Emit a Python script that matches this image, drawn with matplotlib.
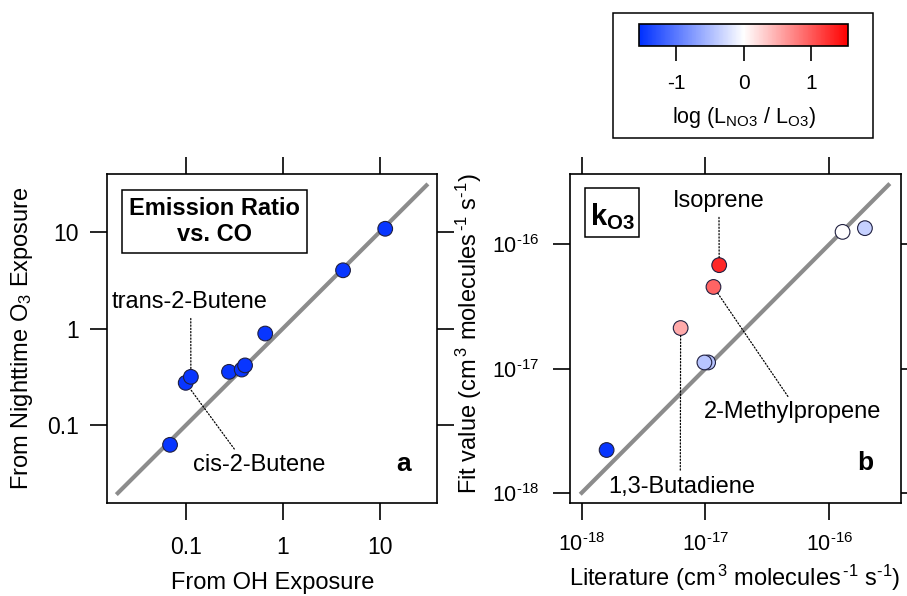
import matplotlib
matplotlib.use("Agg")
import matplotlib.pyplot as plt
from matplotlib.colors import LinearSegmentedColormap, Normalize
from matplotlib.cm import ScalarMappable
from matplotlib.patches import Rectangle
from matplotlib.ticker import NullLocator

plt.rcParams['font.family'] = ['Liberation Sans', 'DejaVu Sans']
plt.rcParams['mathtext.fontset'] = 'custom'
plt.rcParams['mathtext.rm'] = 'Liberation Sans'
plt.rcParams['mathtext.it'] = 'Liberation Sans:italic'
plt.rcParams['mathtext.bf'] = 'Liberation Sans:bold'
plt.rcParams['mathtext.default'] = 'regular'

# panel a: emission ratio vs CO, two exposure methods
er_oh = [0.069, 0.100, 0.113, 0.279, 0.377, 0.408, 0.658, 4.16, 11.3]
er_o3 = [0.063, 0.275, 0.317, 0.357, 0.377, 0.416, 0.887, 3.99, 10.7]
er_logratio = [-1.5, -1.5, -1.5, -1.5, -1.5, -1.5, -1.5, -1.5, -1.5]
a_ticks = [0.1, 1, 10]
a_ticklabels = ['0.1', '1', '10']

# panel b: kO3 fit vs literature
k_lit = [1.59e-18, 6.3e-18, 1.05e-17, 9.8e-18, 1.16e-17, 1.29e-17, 1.28e-16, 1.94e-16]
k_fit = [2.21e-18, 2.12e-17, 1.12e-17, 1.12e-17, 4.54e-17, 6.8e-17, 1.26e-16, 1.35e-16]
k_logratio = [-1.5, 0.52, -0.43, -0.43, 0.94, 1.3, 0.0, -0.35]
b_ticks = [1e-18, 1e-17, 1e-16]
b_ticklabels = [r'$10^{\text{-18}}$', r'$10^{\text{-17}}$', r'$10^{\text{-16}}$']

one_to_one_a = [0.02, 30]
one_to_one_b = [1e-18, 3e-16]

cbar_ticks = [-1, 0, 1]
cbar_ticklabels = ['-1', '0', '1']

cmap = LinearSegmentedColormap.from_list('bwr_igor', ['#0030ff', '#ffffff', '#ff0000'])
norm = Normalize(vmin=-1.55, vmax=1.55)

fig = plt.figure(figsize=(9.07, 5.96), dpi=100)
ax_a = fig.add_axes([0.118, 0.156, 0.364, 0.552])
ax_b = fig.add_axes([0.6285, 0.1565, 0.365, 0.5515])


def style_axis(ax, pad_x, pad_y, labelsize):
    ax.set_xscale('log')
    ax.set_yscale('log')
    for s in ax.spines.values():
        s.set_linewidth(1.2)
    ax.tick_params(which='major', direction='out', length=12, width=1.2,
                   top=True, right=True, labelsize=labelsize)
    ax.tick_params(axis='x', pad=pad_x)
    ax.tick_params(axis='y', pad=pad_y)
    ax.xaxis.set_minor_locator(NullLocator())
    ax.yaxis.set_minor_locator(NullLocator())


dotted = dict(arrowstyle='-', linestyle=(0, (1, 1.6)), lw=0.9, color='black',
              shrinkA=2, shrinkB=5.5)

# ---- panel a ----
style_axis(ax_a, 11.5, 8.5, 16.5)
ax_a.plot(one_to_one_a, one_to_one_a, color='#8c8c8c', lw=3, zorder=1)
ax_a.scatter(er_oh, er_o3, c=er_logratio, cmap=cmap, norm=norm, s=112,
             edgecolors='#202040', linewidths=0.8, zorder=3)
ax_a.set_xlim(0.0155, 38.7)
ax_a.set_ylim(0.0158, 39.3)
ax_a.set_xticks(a_ticks)
ax_a.set_xticklabels(a_ticklabels)
ax_a.set_yticks(a_ticks)
ax_a.set_yticklabels(a_ticklabels)
ax_a.set_xlabel('From OH Exposure', fontsize=17, va='center')
ax_a.xaxis.set_label_coords(0.501, -0.243)
ax_a.set_ylabel('From Nighttime O$_3$ Exposure', fontsize=17, va='center')
ax_a.yaxis.set_label_coords(-0.258, 0.5015)

ax_a.text(0.325, 0.855, 'Emission Ratio\nvs. CO', transform=ax_a.transAxes,
          ha='center', va='center', fontsize=17, fontweight='bold', linespacing=1.15,
          bbox=dict(boxstyle='square,pad=0.3', fc='white', ec='black', lw=1.1))
ax_a.text(0.897, 0.1185, 'a', transform=ax_a.transAxes, ha='center', va='center',
          fontsize=19, fontweight='bold')

ax_a.annotate('trans-2-Butene', xy=(er_oh[2], er_o3[2]), xytext=(0.1107, 1.88),
              ha='center', va='center', fontsize=17,
              arrowprops=dict(dotted, relpos=(0.505, 0)))
ax_a.annotate('cis-2-Butene', xy=(er_oh[1], er_o3[1]), xytext=(0.570, 0.039),
              ha='center', va='center', fontsize=17,
              arrowprops=dict(dotted, relpos=(0.34, 1)))

# ---- panel b ----
style_axis(ax_b, 10, 10.5, 15.5)
ax_b.plot(one_to_one_b, one_to_one_b, color='#8c8c8c', lw=3, zorder=1)
ax_b.scatter(k_lit, k_fit, c=k_logratio, cmap=cmap, norm=norm, s=112,
             edgecolors='#202040', linewidths=0.8, zorder=3)
ax_b.set_xlim(10 ** -18.094, 10 ** -15.42)
ax_b.set_ylim(10 ** -18.08, 10 ** -15.434)
ax_b.set_xticks(b_ticks)
ax_b.set_xticklabels(b_ticklabels)
ax_b.set_yticks(b_ticks)
ax_b.set_yticklabels(b_ticklabels)
unit = r'(cm$^{\,3}$ molecules$^{\,\text{-1}}$ s$^{\text{-1}}$)'
ax_b.set_xlabel('Literature ' + unit, fontsize=17, va='center')
ax_b.xaxis.set_label_coords(0.4985, -0.2276)
ax_b.set_ylabel('Fit value ' + unit, fontsize=17, va='center')
ax_b.yaxis.set_label_coords(-0.305, 0.516)

ax_b.add_patch(Rectangle((0.0453, 0.8074), 0.1641, 0.1491, transform=ax_b.transAxes,
                         fc='white', ec='black', lw=1.1, zorder=4))
ax_b.text(0.1296, 0.872, r'$\mathbf{k_{O3}}$', transform=ax_b.transAxes,
          ha='center', va='center', fontsize=21, zorder=5)
ax_b.text(0.891, 0.121, 'b', transform=ax_b.transAxes, ha='center', va='center',
          fontsize=19, fontweight='bold')

ax_b.annotate('Isoprene', xy=(k_lit[5], k_fit[5]), xytext=(1.285e-17, 2.24e-16),
              ha='center', va='center', fontsize=17,
              arrowprops=dict(dotted, relpos=(0.5, 0)))
ax_b.annotate('2-Methylpropene', xy=(k_lit[4], k_fit[4]), xytext=(5.02e-17, 4.43e-18),
              ha='center', va='center', fontsize=17,
              arrowprops=dict(dotted, relpos=(0.495, 1)))
ax_b.annotate('1,3-Butadiene', xy=(k_lit[1], k_fit[1]), xytext=(6.43e-18, 1.12e-18),
              ha='center', va='center', fontsize=17,
              arrowprops=dict(dotted, relpos=(0.49, 1)))

# ---- colour scale legend ----
cax = fig.add_axes([0.7049, 0.9228, 0.2304, 0.0369])
cb = fig.colorbar(ScalarMappable(norm=norm, cmap=cmap), cax=cax, orientation='horizontal')
cb.set_ticks(cbar_ticks)
cb.set_ticklabels(cbar_ticklabels)
cb.outline.set_linewidth(1.2)
cax.tick_params(length=11, width=1.2, labelsize=15, pad=9)
cax.xaxis.set_minor_locator(NullLocator())
cax.set_xlabel('log (L$_{NO3}$ / L$_{O3}$)', fontsize=15.5, va='center')
cax.xaxis.set_label_coords(0.5, -3.23)
fig.add_artist(Rectangle((0.6762, 0.768), 0.2867, 0.2107, transform=fig.transFigure,
                         fill=False, ec='black', lw=1.1))

fig.savefig('out.png', dpi=100)
